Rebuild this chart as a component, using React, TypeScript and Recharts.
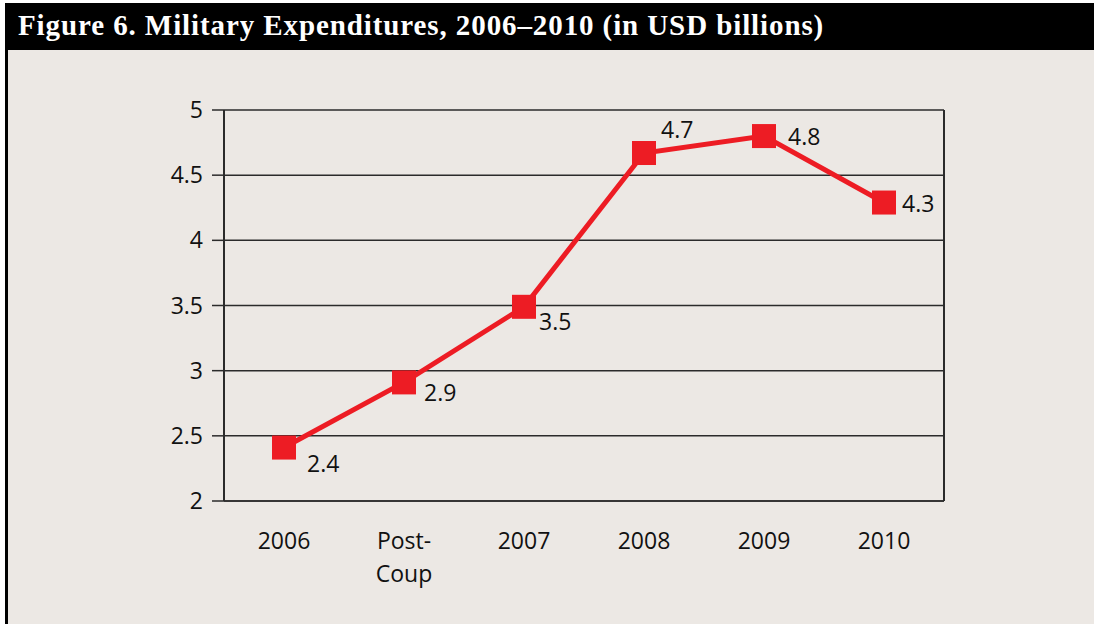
import React from 'react';
import { LineChart, Line, XAxis, YAxis, CartesianGrid, LabelList } from 'recharts';

// Figure 6 — military expenditures, USD billions
const PERIODS = ['2006', 'Post-\nCoup', '2007', '2008', '2009', '2010'];
const SPENDING = [2.41, 2.91, 3.49, 4.67, 4.8, 4.29];
const SPENDING_LABELS = ['2.4', '2.9', '3.5', '4.7', '4.8', '4.3'];
const Y_TICKS = [2, 2.5, 3, 3.5, 4, 4.5, 5];

// label nudges relative to each marker (dx, dy)
const LABEL_NUDGE: [number, number][] = [[23, 15], [20, 10], [15, 14], [17, -24], [24, 0], [18, 0]];

const RED = '#ed1c24';
const INK = '#111';
const RULE = '#2b2b2b';
const FONT = "'Open Sans', 'Noto Sans', sans-serif";

const data = PERIODS.map((p, i) => ({ period: p, value: SPENDING[i], label: SPENDING_LABELS[i] }));

function PeriodTick({ x, y, payload }: any) {
  const lines = String(payload.value).split('\n');
  return (
    <text x={x} y={y + 46} textAnchor="middle" fill={INK} fontSize={23} fontFamily={FONT}>
      {lines.map((l, i) => (
        <tspan key={i} x={x} dy={i === 0 ? 0 : 33}>{l}</tspan>
      ))}
    </text>
  );
}

function SquareDot({ cx, cy, index }: any) {
  return <rect key={index} x={cx - 12} y={cy - 12} width={24} height={24} fill={RED} />;
}

function ValueLabel({ x, y, value, index }: any) {
  const [dx, dy] = LABEL_NUDGE[index] || [18, 0];
  return (
    <text x={x + dx} y={y + dy} textAnchor="start" dominantBaseline="central" fill={INK} fontSize={23} fontFamily={FONT}>
      {value}
    </text>
  );
}

// right-hand edge of the plot frame
const frameEdge = ({ offset }: any) => [offset.left + offset.width];

export default function App() {
  return (
    <div style={{ position: 'absolute', left: 0, top: 0, width: 1094, height: 624, background: '#fff', overflow: 'hidden' }}>
      <div style={{ position: 'absolute', left: 5, top: 3, width: 1089, height: 47, background: '#000' }} />
      <div
        style={{
          position: 'absolute', left: 18, top: 11, color: '#fff', fontFamily: "'Liberation Serif', 'DejaVu Serif', serif",
          fontWeight: 700, fontSize: 29, lineHeight: '29px', letterSpacing: 0.9, whiteSpace: 'nowrap',
        }}
      >
        Figure 6. Military Expenditures, 2006–2010 (in USD billions)
      </div>
      <div style={{ position: 'absolute', left: 5, top: 50, width: 1089, height: 574, background: '#ece8e4', borderLeft: '3px solid #000', boxSizing: 'border-box' }} />
      <div style={{ position: 'absolute', left: 0, top: 0 }}>
        <LineChart width={1094} height={624} data={data} margin={{ top: 110, right: 150, bottom: 0, left: 0 }}>
          <CartesianGrid vertical={false} stroke={RULE} strokeWidth={1.5} />
          <CartesianGrid horizontal={false} verticalCoordinatesGenerator={frameEdge} stroke={RULE} strokeWidth={2} />
          <XAxis
            dataKey="period"
            interval={0}
            height={123}
            padding={{ left: 60, right: 60 }}
            tickLine={false}
            tickSize={0}
            tick={<PeriodTick />}
            axisLine={{ stroke: RULE, strokeWidth: 1.5 }}
          />
          <YAxis
            domain={[2, 5]}
            ticks={Y_TICKS}
            width={224}
            tickSize={12}
            tickMargin={9}
            tickLine={{ stroke: RULE, strokeWidth: 1.5 }}
            axisLine={{ stroke: RULE, strokeWidth: 2 }}
            tick={{ fill: INK, fontSize: 23, fontFamily: FONT }}
          />
          <Line dataKey="value" stroke={RED} strokeWidth={5} dot={<SquareDot />} activeDot={false} isAnimationActive={false}>
            <LabelList dataKey="label" content={<ValueLabel />} />
          </Line>
        </LineChart>
      </div>
    </div>
  );
}
